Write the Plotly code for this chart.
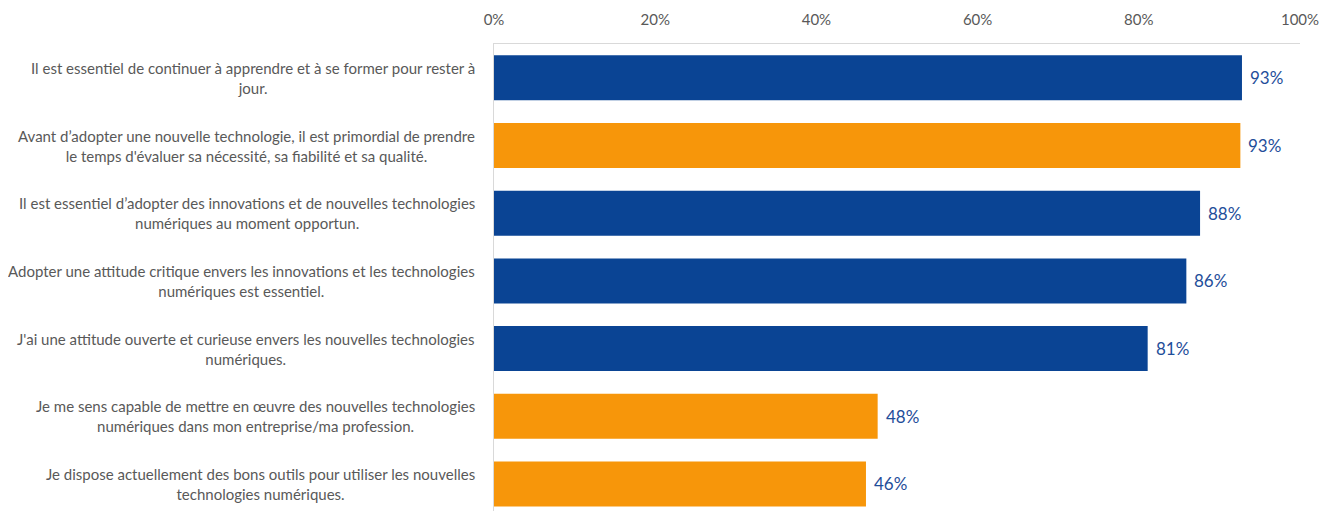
import plotly.graph_objects as go

categories = [
    "Il est essentiel de continuer à apprendre et à se former pour rester à<br>jour.",
    "Avant d’adopter une nouvelle technologie, il est primordial de prendre<br>le temps d'évaluer sa nécessité, sa fiabilité et sa qualité.",
    "Il est essentiel d’adopter des innovations et de nouvelles technologies<br>numériques au moment opportun.",
    "Adopter une attitude critique envers les innovations et les technologies<br>numériques est essentiel.",
    "J'ai une attitude ouverte et curieuse envers les nouvelles technologies<br>numériques.",
    "Je me sens capable de mettre en œuvre des nouvelles technologies<br>numériques dans mon entreprise/ma profession.",
    "Je dispose actuellement des bons outils pour utiliser les nouvelles<br>technologies numériques.",
]
values = [0.928, 0.926, 0.876, 0.859, 0.811, 0.476, 0.4615]
groups = ["blue", "orange", "blue", "blue", "blue", "orange", "orange"]
tick_vals = [0, 0.2, 0.4, 0.6, 0.8, 1.0]
tick_text = ["0%", "20%", "40%", "60%", "80%", "100%"]

palette = {"blue": "#0A4494", "orange": "#F7960A"}
colors = [palette[g] for g in groups]

fig = go.Figure()
fig.add_trace(go.Bar(
    x=values,
    y=list(range(len(categories))),
    orientation="h",
    marker=dict(color=colors, line=dict(width=0)),
    width=0.665,
    hoverinfo="skip",
))

for i, v in enumerate(values):
    fig.add_annotation(
        x=v, xref="x", xanchor="left", xshift=6,
        y=i, yref="y", yanchor="middle",
        text=f"{round(v * 100)}%", showarrow=False,
        font=dict(family="Lato", size=17, color="#1F4E9A"),
    )

for i, c in enumerate(categories):
    fig.add_annotation(
        x=0, xref="paper", xanchor="right", xshift=-17,
        y=i, yref="y", yanchor="middle",
        text=c, showarrow=False, align="center",
        font=dict(family="Lato", size=15, color="#595959"),
    )

fig.update_layout(
    width=1319, height=503,
    margin=dict(l=486, r=27, t=36, b=0, autoexpand=False),
    plot_bgcolor="white", paper_bgcolor="white",
    showlegend=False,
)
fig.update_xaxes(
    side="top", range=[0, 1.0], tickvals=tick_vals, ticktext=tick_text,
    tickfont=dict(family="Lato", size=15, color="#595959"),
    showgrid=False, zeroline=False, automargin=False,
    showline=True, linecolor="#D9D9D9", linewidth=1,
    ticks="", ticklabelstandoff=12,
)
fig.update_yaxes(
    range=[6.4, -0.5], showticklabels=False, showgrid=False, zeroline=False,
    automargin=False,
    showline=True, linecolor="#D9D9D9", linewidth=1, ticks="",
)

fig.write_html("out.html")
